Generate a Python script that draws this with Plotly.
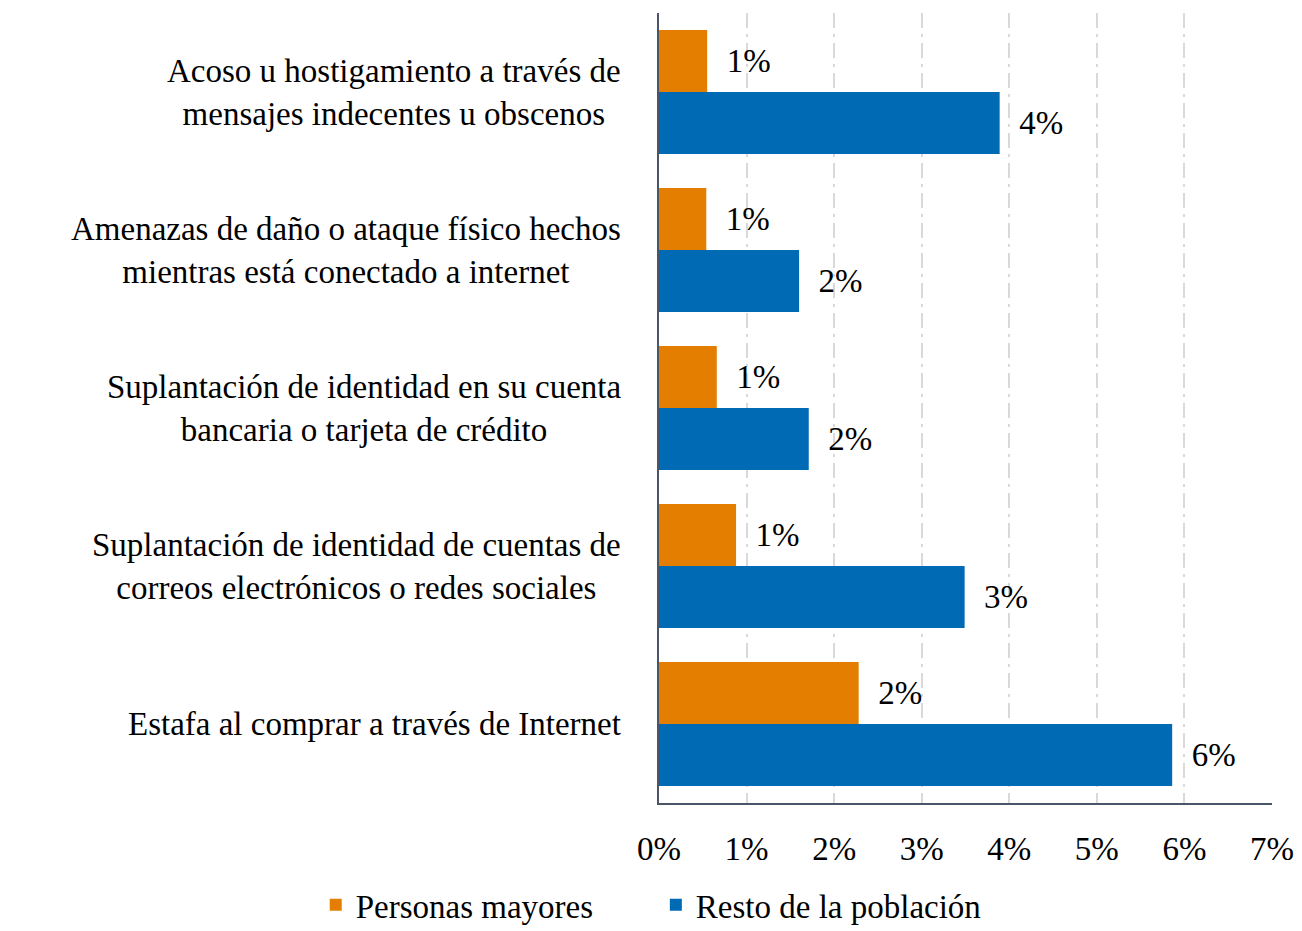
import plotly.graph_objects as go

categories = [
    "Acoso u hostigamiento a través de<br>mensajes indecentes u obscenos",
    "Amenazas de daño o ataque físico hechos<br>mientras está conectado a internet",
    "Suplantación de identidad en su cuenta<br>bancaria o tarjeta de crédito",
    "Suplantación de identidad de cuentas de<br>correos electrónicos o redes sociales",
    "Estafa al comprar a través de Internet",
]
mayores = [0.55, 0.54, 0.66, 0.88, 2.28]
resto = [3.89, 1.60, 1.71, 3.49, 5.86]
x_ticks = [0, 1, 2, 3, 4, 5, 6, 7]

FONT = "Liberation Serif"
SIZE = 33
ORANGE = "#E37E00"
BLUE = "#006AB5"

fig = go.Figure()
fig.add_trace(go.Bar(
    y=categories, x=mayores, name="Personas mayores" + "\u00a0" * 7,
    orientation="h",
    marker=dict(color=ORANGE, line=dict(width=0)),
    text=["\u00a0\u00a0%d%%" % max(1, round(v)) for v in mayores],
    textposition="outside", cliponaxis=False,
    textfont=dict(family=FONT, size=SIZE, color="#000"),
))
fig.add_trace(go.Bar(
    y=categories, x=resto, name="Resto de la población", orientation="h",
    marker=dict(color=BLUE, line=dict(width=0)),
    text=["\u00a0\u00a0%d%%" % round(v) for v in resto],
    textposition="outside", cliponaxis=False,
    textfont=dict(family=FONT, size=SIZE, color="#000"),
))

# category labels, centred lines like the original
for c in categories:
    fig.add_annotation(
        x=0, y=c, xref="paper", yref="y", text=c, showarrow=False,
        xanchor="right", align="center", xshift=-36,
        font=dict(family=FONT, size=SIZE, color="#000"),
    )

fig.update_layout(
    width=1302, height=931,
    paper_bgcolor="white", plot_bgcolor="white",
    margin=dict(l=651, r=38, t=5, b=136),
    barmode="group", bargap=0.215, bargroupgap=0,
    font=dict(family=FONT, size=SIZE, color="#000"),
    legend=dict(
        orientation="h", x=-0.56, xanchor="left", y=-0.129, yanchor="middle",
        font=dict(family=FONT, size=SIZE),
    ),
    showlegend=True,
)
fig.update_xaxes(
    range=[0, 7], tickvals=x_ticks, ticktext=["%d%%" % t for t in x_ticks],
    showgrid=True, gridcolor="#D9D9D9", griddash="longdashdot", gridwidth=1.5,
    zeroline=False, showline=True, linecolor="#4A5568", linewidth=1.5,
    ticks="", ticklabelstandoff=16,
    tickfont=dict(family=FONT, size=SIZE, color="#000"),
)
fig.update_yaxes(
    autorange="reversed", showticklabels=False,
    showline=True, linecolor="#4A5568", linewidth=1.5,
    showgrid=False,
)

fig.write_html("out.html")
